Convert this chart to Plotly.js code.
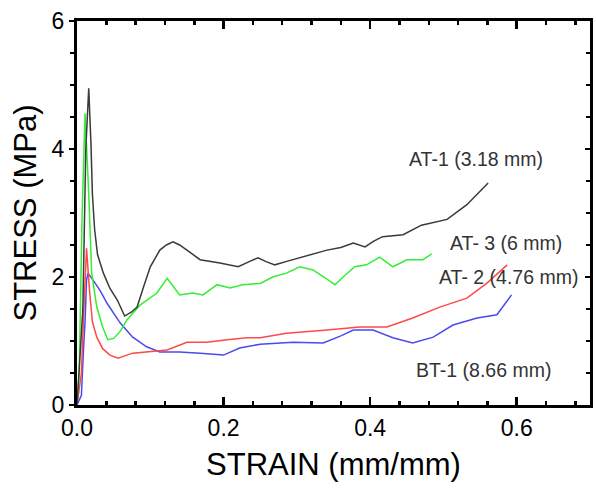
<!DOCTYPE html>
<html>
<head>
<meta charset="utf-8">
<script src="https://cdn.plot.ly/plotly-3.0.1.min.js"></script>
<style>html,body{margin:0;padding:0;background:#fff;}#chart{width:596px;height:493px;}</style>
</head>
<body>
<div id="chart"></div>
<script>
// AT-1 (3.18 mm) - black
const at1X = [0, 0.008, 0.012, 0.016, 0.019, 0.021, 0.024, 0.028, 0.036, 0.045, 0.055, 0.065, 0.074, 0.082, 0.091, 0.100, 0.113, 0.122, 0.131, 0.140, 0.150, 0.168, 0.195, 0.220, 0.235, 0.247, 0.258, 0.270, 0.285, 0.304, 0.322, 0.341, 0.360, 0.377, 0.393, 0.405, 0.417, 0.445, 0.470, 0.505, 0.532, 0.561];
const at1Y = [0, 1.5, 4.0, 4.95, 4.1, 3.3, 2.75, 2.35, 2.06, 1.82, 1.64, 1.39, 1.45, 1.53, 1.85, 2.16, 2.42, 2.5, 2.55, 2.5, 2.42, 2.27, 2.22, 2.16, 2.24, 2.3, 2.24, 2.19, 2.24, 2.3, 2.35, 2.42, 2.46, 2.53, 2.47, 2.56, 2.63, 2.66, 2.81, 2.9, 3.13, 3.47];
// AT-3 (6 mm) - green
const at3X = [0, 0.003, 0.007, 0.011, 0.016, 0.018, 0.020, 0.027, 0.035, 0.042, 0.050, 0.059, 0.068, 0.086, 0.109, 0.123, 0.140, 0.158, 0.172, 0.191, 0.209, 0.226, 0.250, 0.267, 0.286, 0.304, 0.322, 0.337, 0.352, 0.365, 0.379, 0.395, 0.413, 0.431, 0.450, 0.472, 0.484];
const at3Y = [0, 0.5, 3.0, 4.56, 3.3, 2.47, 2.06, 1.53, 1.22, 1.02, 1.04, 1.15, 1.33, 1.56, 1.75, 1.98, 1.72, 1.75, 1.72, 1.88, 1.83, 1.88, 1.9, 2.0, 2.06, 2.16, 2.11, 2.0, 1.88, 2.02, 2.16, 2.19, 2.31, 2.16, 2.27, 2.27, 2.36];
// AT-2 (4.76 mm) - red
const at2X = [0, 0.006, 0.009, 0.013, 0.017, 0.021, 0.027, 0.035, 0.045, 0.056, 0.076, 0.100, 0.123, 0.150, 0.177, 0.205, 0.232, 0.250, 0.286, 0.341, 0.386, 0.423, 0.458, 0.495, 0.532, 0.559, 0.587];
const at2Y = [0, 0.5, 1.4, 2.45, 1.8, 1.3, 1.06, 0.88, 0.78, 0.73, 0.81, 0.83, 0.86, 0.98, 0.98, 1.02, 1.05, 1.05, 1.12, 1.17, 1.22, 1.22, 1.36, 1.53, 1.67, 1.9, 2.19];
// BT-1 (8.66 mm) - blue
const bt1X = [0, 0.006, 0.009, 0.011, 0.013, 0.015, 0.022, 0.032, 0.041, 0.050, 0.059, 0.076, 0.095, 0.113, 0.140, 0.168, 0.200, 0.222, 0.250, 0.295, 0.336, 0.360, 0.377, 0.404, 0.431, 0.458, 0.486, 0.513, 0.546, 0.573, 0.593];
const bt1Y = [0, 0.15, 0.9, 1.3, 1.95, 2.06, 1.95, 1.78, 1.59, 1.43, 1.28, 1.06, 0.91, 0.83, 0.83, 0.81, 0.78, 0.89, 0.95, 0.98, 0.97, 1.08, 1.17, 1.17, 1.05, 0.97, 1.06, 1.25, 1.36, 1.41, 1.72];

const seriesNames = ["AT-1 (3.18 mm)", "AT- 3 (6 mm)", "AT- 2 (4.76 mm)", "BT-1 (8.66 mm)"];
const labelX = [0.544, 0.585, 0.589, 0.554];
const labelY = [3.84, 2.53, 2.0, 0.55];
const xTickVals = [0, 0.2, 0.4, 0.6];
const xTickText = ["0.0", "0.2", "0.4", "0.6"];
const yTickVals = [0, 2, 4, 6];
const yTickText = ["0", "2", "4", "6"];

const colors = ["#3a3a3a", "#33ee33", "#ff4848", "#4a4aee"];
const xs = [at1X, at3X, at2X, bt1X];
const ys = [at1Y, at3Y, at2Y, bt1Y];

const FONT = "Liberation Sans, Arial, sans-serif";

const traces = [3, 2, 1, 0].map(i => ({
  x: xs[i], y: ys[i], type: "scatter", mode: "lines",
  line: {color: colors[i], width: 1.5}, name: seriesNames[i], hoverinfo: "skip"
}));
traces.push({x: [], y: [], yaxis: "y2", type: "scatter", mode: "lines", showlegend: false});

const annotations = seriesNames.map((t, i) => ({
  x: labelX[i], y: labelY[i], xref: "x", yref: "y", text: t, showarrow: false,
  font: {family: FONT, size: 19.5, color: "#333"}, xanchor: "center", yanchor: "middle"
}));

const layout = {
  width: 596, height: 493,
  margin: {l: 77, r: 6, t: 21, b: 88},
  paper_bgcolor: "#fff", plot_bgcolor: "#fff",
  showlegend: false,
  font: {family: FONT, color: "#000"},
  xaxis: {
    range: [0, 0.7], tickvals: xTickVals, ticktext: xTickText,
    ticks: "inside", ticklen: 8, tickwidth: 2.5, tickcolor: "#000",
    minor: {dtick: 0.04, tick0: 0, ticks: "inside", ticklen: 4, tickwidth: 2.5, tickcolor: "#000", showgrid: false},
    showline: true, linewidth: 3, linecolor: "#000", mirror: "ticks",
    showgrid: false, zeroline: false,
    tickfont: {family: FONT, size: 23, color: "#000"},
    title: {text: "STRAIN (mm/mm)", font: {family: FONT, size: 31, color: "#000"}, standoff: 14}
  },
  yaxis: {
    range: [0, 6], tickvals: yTickVals, ticktext: yTickText,
    ticks: "outside", ticklen: 5, tickwidth: 2.5, tickcolor: "#000",
    minor: {dtick: 0.5, tick0: 0, ticks: "outside", ticklen: 4, tickwidth: 2.5, tickcolor: "#000", showgrid: false},
    showline: true, linewidth: 3, linecolor: "#000",
    showgrid: false, zeroline: false,
    tickfont: {family: FONT, size: 23, color: "#000"},
    title: {text: "STRESS (MPa)", font: {family: FONT, size: 31, color: "#000"}, standoff: 6}
  },
  yaxis2: {
    overlaying: "y", side: "right", range: [0, 6], tickvals: yTickVals,
    showticklabels: false, ticks: "inside", ticklen: 5, tickwidth: 2.5, tickcolor: "#000",
    minor: {dtick: 0.5, tick0: 0, ticks: "inside", ticklen: 4, tickwidth: 2.5, tickcolor: "#000", showgrid: false},
    showline: true, linewidth: 3, linecolor: "#000",
    showgrid: false, zeroline: false
  },
  annotations: annotations
};

Plotly.newPlot("chart", traces, layout, {staticPlot: true, displayModeBar: false});
</script>
</body>
</html>
